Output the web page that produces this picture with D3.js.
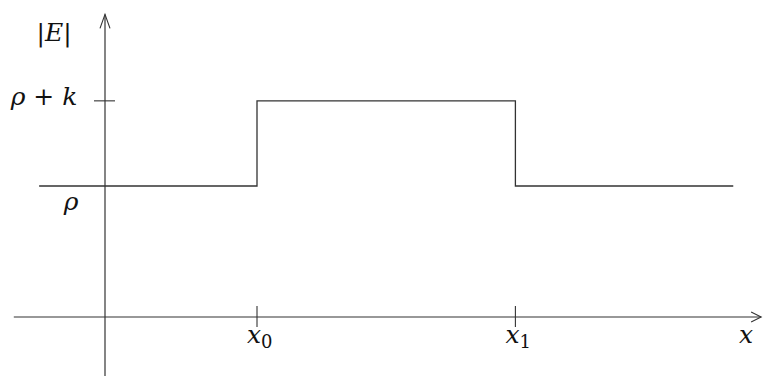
<!DOCTYPE html>
<html>
<head>
<meta charset="utf-8">
<script src="https://cdn.jsdelivr.net/npm/d3@7"></script>
<style>
  body { margin: 0; background: #fff; }
</style>
</head>
<body>
<svg id="chart" width="767" height="376"></svg>
<script>
// step profile |E|(x): rho outside [x0, x1], rho + k inside
const rho = 1;
const k = 0.65;
const xStart = -1.3, x0 = 3, x1 = 8.1, xEnd = 12.4;
const stepPoints = [
  { x: xStart, y: rho },
  { x: x0, y: rho },
  { x: x0, y: rho + k },
  { x: x1, y: rho + k },
  { x: x1, y: rho },
  { x: xEnd, y: rho }
];
const xTicks = [
  { value: x0, label: "x", sub: "0" },
  { value: x1, label: "x", sub: "1" }
];
const yTicks = [{ value: rho + k }];

const svg = d3.select("#chart");
const stroke = "#333";
const serif = "'DejaVu Serif'";

// scales: origin at (105, 317)
const xScale = d3.scaleLinear().domain([0, 3]).range([105, 257]);
const yScale = d3.scaleLinear().domain([0, 1]).range([317, 186]);

// -------------------------------------------------
// axes with open arrow heads
// -------------------------------------------------
const xAxisLeft = xScale(-1.8), xAxisRight = xScale(12.95);
const yAxisTop = yScale(2.31), yAxisBottom = 376;

svg.append("line")
  .attr("x1", xAxisLeft).attr("x2", xAxisRight)
  .attr("y1", yScale(0)).attr("y2", yScale(0))
  .attr("stroke", stroke).attr("stroke-width", 1.2);

svg.append("path")
  .attr("d", `M${xAxisRight - 10},${yScale(0) - 5} L${xAxisRight},${yScale(0)} L${xAxisRight - 10},${yScale(0) + 5}`)
  .attr("fill", "none").attr("stroke", stroke).attr("stroke-width", 1.1);

svg.append("line")
  .attr("x1", xScale(0)).attr("x2", xScale(0))
  .attr("y1", yAxisBottom).attr("y2", yAxisTop)
  .attr("stroke", stroke).attr("stroke-width", 1.2);

svg.append("path")
  .attr("d", `M${xScale(0) - 5},${yAxisTop + 14} L${xScale(0)},${yAxisTop} L${xScale(0) + 5},${yAxisTop + 14}`)
  .attr("fill", "none").attr("stroke", stroke).attr("stroke-width", 1.1);

// x ticks
svg.selectAll(".xtick")
  .data(xTicks)
  .enter()
  .append("line")
  .attr("class", "xtick")
  .attr("x1", d => xScale(d.value)).attr("x2", d => xScale(d.value))
  .attr("y1", yScale(0) - 11).attr("y2", yScale(0) + 10)
  .attr("stroke", stroke).attr("stroke-width", 1.1);

// y ticks
svg.selectAll(".ytick")
  .data(yTicks)
  .enter()
  .append("line")
  .attr("class", "ytick")
  .attr("x1", xScale(0) - 11).attr("x2", xScale(0) + 10)
  .attr("y1", d => yScale(d.value)).attr("y2", d => yScale(d.value))
  .attr("stroke", stroke).attr("stroke-width", 1.1);

// -------------------------------------------------
// step line
// -------------------------------------------------
const line = d3.line().x(d => xScale(d.x)).y(d => yScale(d.y));
svg.append("path")
  .datum(stepPoints)
  .attr("d", line)
  .attr("fill", "none")
  .attr("stroke", stroke)
  .attr("stroke-width", 1.3);

// -------------------------------------------------
// labels
// -------------------------------------------------
const fs = 25;

function label(x, y, anchor) {
  return svg.append("text")
    .attr("x", x).attr("y", y)
    .attr("text-anchor", anchor)
    .style("font-family", serif)
    .style("font-size", fs + "px")
    .style("fill", "#111");
}

label(54, 41, "middle")
  .html('|<tspan font-style="italic">E</tspan>|');

label(44, yScale(rho + k) + 4, "middle")
  .html('<tspan font-style="italic">ρ</tspan> + <tspan font-style="italic">k</tspan>');

label(71, yScale(rho) + 24, "middle")
  .style("font-style", "italic")
  .text("ρ");

xTicks.forEach(t => {
  const xl = label(xScale(t.value) - 10, yScale(0) + 26, "start");
  xl.append("tspan").style("font-style", "italic").text(t.label);
  xl.append("tspan").attr("dy", 5).style("font-size", "18px").text(t.sub);
});

label(xScale(12.65), yScale(0) + 26, "middle")
  .style("font-style", "italic")
  .text("x");
</script>
</body>
</html>
